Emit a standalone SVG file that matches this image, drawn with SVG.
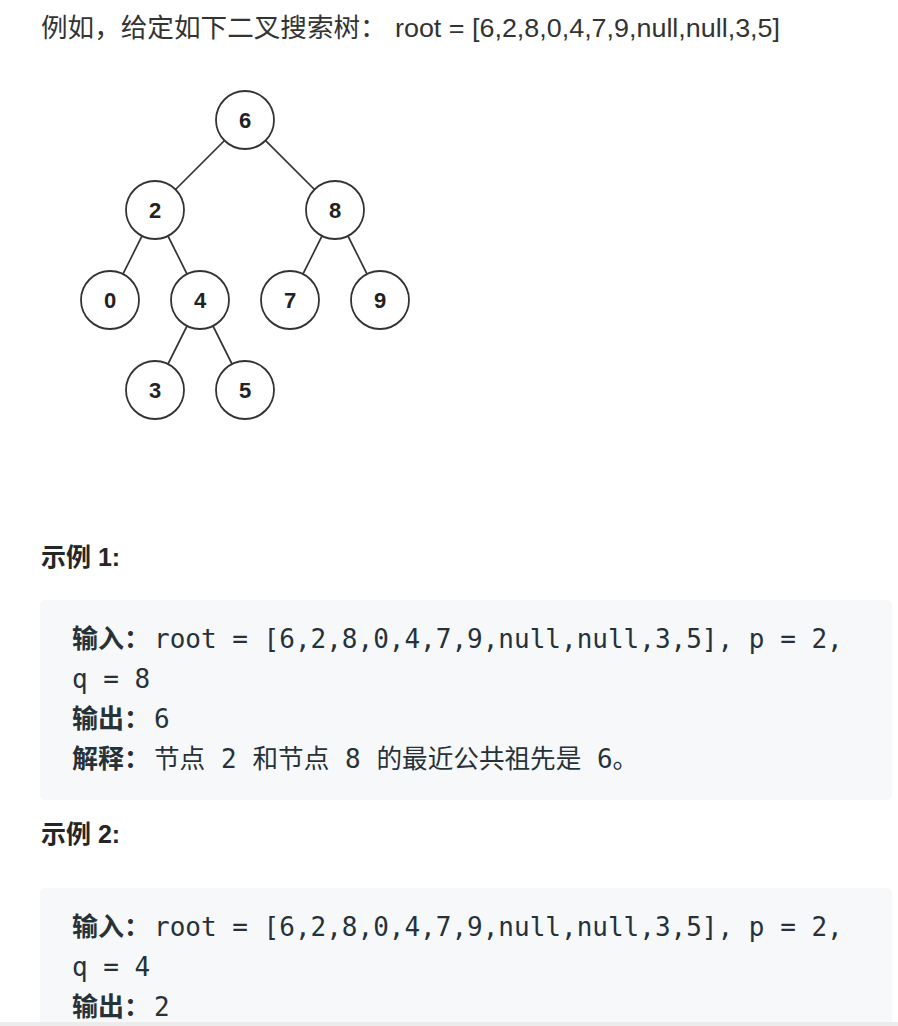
<svg xmlns="http://www.w3.org/2000/svg" width="898" height="1026" viewBox="0 0 898 1026">
<style>
.bg{fill:#ffffff}
.edge{stroke:#333333;stroke-width:1.7;fill:none}
.node circle{fill:#ffffff;stroke:#333333;stroke-width:1.8}
.node text{font-family:"Liberation Sans",Arial,sans-serif;font-weight:bold;font-size:22px;fill:#222222;text-anchor:middle}
.hdr{font-family:"Noto Sans CJK SC",sans-serif;font-size:26.6px;fill:#333333}
.hdrl{font-family:"Liberation Sans",Arial,sans-serif;font-size:25px;fill:#333333}
.h2{font-family:"Liberation Sans","Noto Sans CJK SC",sans-serif;font-weight:bold;font-size:25px;fill:#262626}
.box{fill:#f7f8fa}
.lab{font-family:"Noto Sans CJK SC",sans-serif;font-weight:bold;font-size:26px;fill:#263238}
.mono{font-family:"DejaVu Sans Mono","Noto Sans CJK SC",monospace;font-size:26px;fill:#263238}
.cjk{font-family:"Noto Sans CJK SC",sans-serif;font-size:25.6px;fill:#263238}
</style>
<rect class="bg" x="0" y="0" width="898" height="1026"/>
<g id="header">
<text class="hdr" x="41" y="37">例如，给定如下二叉搜索树：</text>
<text class="hdrl" x="395" y="37" textLength="385" lengthAdjust="spacingAndGlyphs">root = [6,2,8,0,4,7,9,null,null,3,5]</text>
</g>
<g id="connectors">
<line class="edge" x1="245" y1="120" x2="155" y2="210"/>
<line class="edge" x1="245" y1="120" x2="335" y2="210"/>
<line class="edge" x1="155" y1="210" x2="110" y2="300"/>
<line class="edge" x1="155" y1="210" x2="200" y2="300"/>
<line class="edge" x1="335" y1="210" x2="290" y2="300"/>
<line class="edge" x1="335" y1="210" x2="380" y2="300"/>
<line class="edge" x1="200" y1="300" x2="155" y2="390"/>
<line class="edge" x1="200" y1="300" x2="245" y2="390"/>
</g>
<g id="node6" class="node"><circle cx="245" cy="120" r="29"/><text x="245" y="128">6</text></g>
<g id="node2" class="node"><circle cx="155" cy="210" r="29"/><text x="155" y="218">2</text></g>
<g id="node8" class="node"><circle cx="335" cy="210" r="29"/><text x="335" y="218">8</text></g>
<g id="node0" class="node"><circle cx="110" cy="300" r="29"/><text x="110" y="308">0</text></g>
<g id="node4" class="node"><circle cx="200" cy="300" r="29"/><text x="200" y="308">4</text></g>
<g id="node7" class="node"><circle cx="290" cy="300" r="29"/><text x="290" y="308">7</text></g>
<g id="node9" class="node"><circle cx="380" cy="300" r="29"/><text x="380" y="308">9</text></g>
<g id="node3" class="node"><circle cx="155" cy="390" r="29"/><text x="155" y="398">3</text></g>
<g id="node5" class="node"><circle cx="245" cy="390" r="29"/><text x="245" y="398">5</text></g>
<g id="example1">
<text class="h2" x="41" y="566">示例 1:</text>
<rect class="box" x="40" y="600" width="852" height="200" rx="5"/>
<text class="lab" x="72" y="648">输入：</text>
<text class="mono" x="154" y="648">root = [6,2,8,0,4,7,9,null,null,3,5], p = 2,</text>
<text class="mono" x="72" y="688">q = 8</text>
<text class="lab" x="72" y="728">输出：</text>
<text class="mono" x="154" y="728">6</text>
<text class="lab" x="72" y="768">解释：</text>
<text class="cjk" x="154" y="768">节点</text>
<text class="mono" x="221" y="768">2</text>
<text class="cjk" x="252.5" y="768">和节点</text>
<text class="mono" x="345" y="768">8</text>
<text class="cjk" x="376.5" y="768">的最近公共祖先是</text>
<text class="mono" x="597" y="768">6</text>
<text class="cjk" x="612.5" y="768">。</text>
</g>
<g id="example2">
<text class="h2" x="41" y="843">示例 2:</text>
<rect class="box" x="40" y="888" width="852" height="200" rx="5"/>
<text class="lab" x="72" y="936">输入：</text>
<text class="mono" x="154" y="936">root = [6,2,8,0,4,7,9,null,null,3,5], p = 2,</text>
<text class="mono" x="72" y="976">q = 4</text>
<text class="lab" x="72" y="1016">输出：</text>
<text class="mono" x="154" y="1016">2</text>
</g>
<rect x="0" y="1022" width="898" height="4" fill="#ececec"/>
</svg>
